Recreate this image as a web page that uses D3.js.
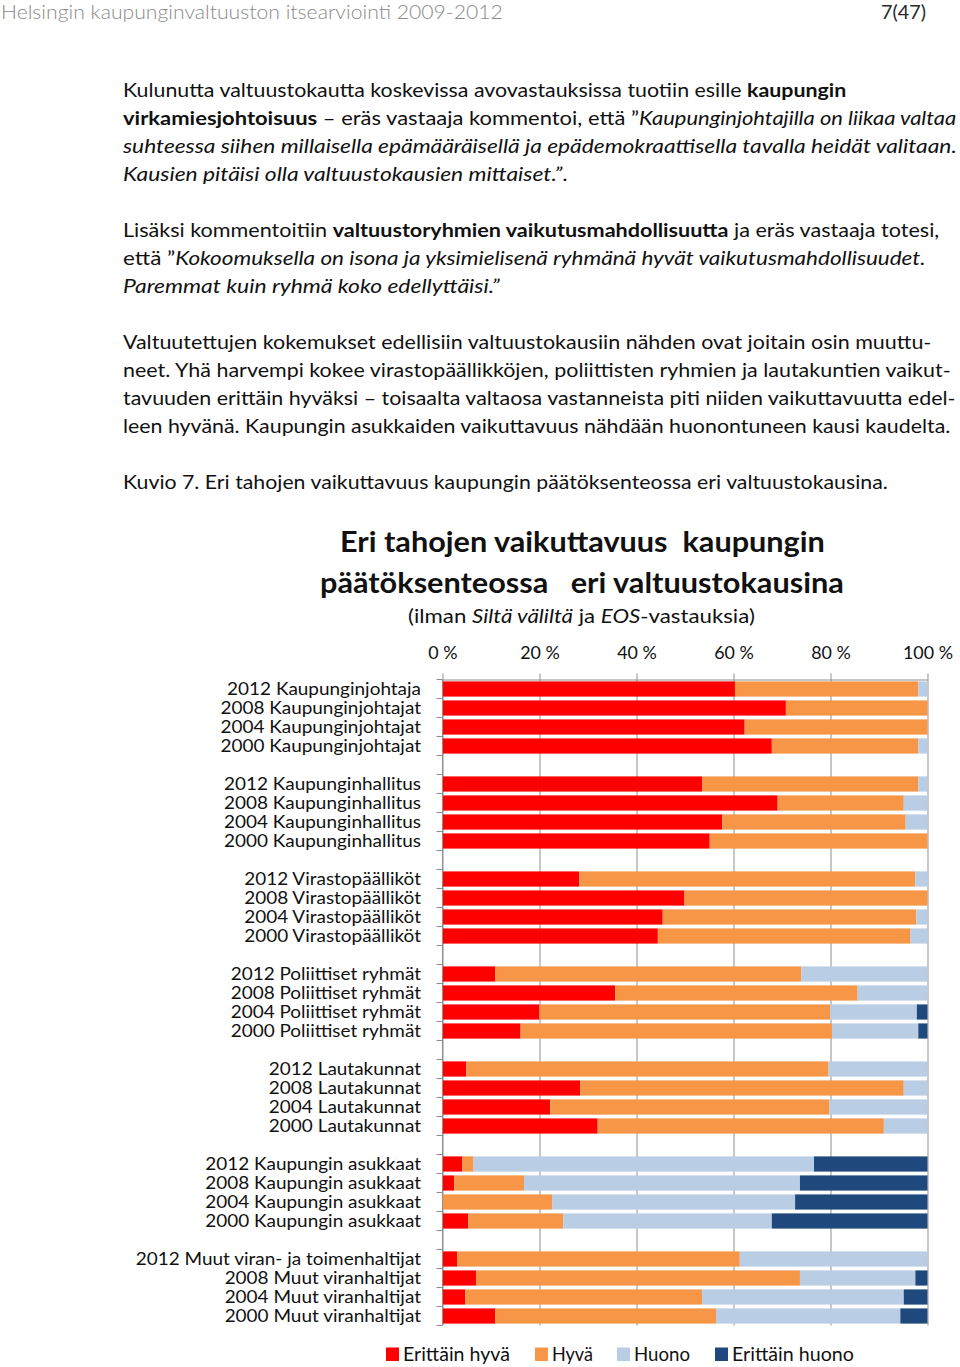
<!DOCTYPE html>
<html><head><meta charset="utf-8">
<script src="https://cdn.jsdelivr.net/npm/d3@7"></script>
<style>
html,body{margin:0;padding:0;background:#fff;}
svg{display:block;}
text{font-family:Lato,"Open Sans","DejaVu Sans",sans-serif;}
</style></head><body>
<svg id="c" width="960" height="1367"></svg>
<script>
// ---------- DATA ----------
const categories = [
  "2012 Kaupunginjohtaja","2008 Kaupunginjohtajat","2004 Kaupunginjohtajat","2000 Kaupunginjohtajat",
  "2012 Kaupunginhallitus","2008 Kaupunginhallitus","2004 Kaupunginhallitus","2000 Kaupunginhallitus",
  "2012 Virastopäälliköt","2008 Virastopäälliköt","2004 Virastopäälliköt","2000 Virastopäälliköt",
  "2012 Poliittiset ryhmät","2008 Poliittiset ryhmät","2004 Poliittiset ryhmät","2000 Poliittiset ryhmät",
  "2012 Lautakunnat","2008 Lautakunnat","2004 Lautakunnat","2000 Lautakunnat",
  "2012 Kaupungin asukkaat","2008 Kaupungin asukkaat","2004 Kaupungin asukkaat","2000 Kaupungin asukkaat",
  "2012 Muut viran- ja toimenhaltijat","2008 Muut viranhaltijat","2004 Muut viranhaltijat","2000 Muut viranhaltijat"
];
const seriesNames = ["Erittäin hyvä","Hyvä","Huono","Erittäin huono"];
const erittainHyva = [60.3,70.8,62.3,67.9, 53.6,69.1,57.7,55.1, 28.2,49.9,45.4,44.4, 10.9,35.6,20.0,16.1, 4.9,28.4,22.2,32.0, 4.1,2.4,0,5.3, 3.0,6.9,4.7,10.9];
const hyva         = [37.8,29.2,37.7,30.2, 44.5,26.0,37.8,44.9, 69.3,50.1,52.3,52.1, 63.1,50.0,59.9,64.2, 74.7,66.7,57.6,59.0, 2.3,14.4,22.6,19.6, 58.3,66.8,48.8,45.5];
const huono        = [1.9,0,0,1.9, 1.9,4.9,4.5,0, 2.5,0,2.3,3.5, 26.0,14.4,17.9,17.8, 20.4,4.9,20.2,9.0, 70.2,56.9,50.1,43.0, 38.7,23.8,41.6,38.0];
const erittainHuono= [0,0,0,0, 0,0,0,0, 0,0,0,0, 0,0,2.2,1.9, 0,0,0,0, 23.4,26.3,27.3,32.1, 0,2.5,4.9,5.6];
const tickValues = [0,20,40,60,80,100];
const tickLabels = ["0 %","20 %","40 %","60 %","80 %","100 %"];
const colors = ["#FF0000","#F79646","#B9CDE5","#1F497D"];

const headerText = "Helsingin kaupunginvaltuuston itsearviointi 2009-2012";
const pageText = "7(47)";
const chartTitle = ["Eri tahojen vaikuttavuus  kaupungin","päätöksenteossa   eri valtuustokausina"];
// body lines: segments [text, style]  (b = bold, i = italic)
const bodyLines = [
  [["Kulunutta valtuustokautta koskevissa avovastauksissa tuotiin esille ",""],["kaupungin","b"]],
  [["virkamiesjohtoisuus","b"],[" – eräs vastaaja kommentoi, että ”",""],["Kaupunginjohtajilla on liikaa valtaa","i"]],
  [["suhteessa siihen millaisella epämääräisellä ja epädemokraattisella tavalla heidät valitaan.","i"]],
  [["Kausien pitäisi olla valtuustokausien mittaiset.”","i"],[".",""]],
  [["Lisäksi kommentoitiin ",""],["valtuustoryhmien vaikutusmahdollisuutta","b"],[" ja eräs vastaaja totesi,",""]],
  [["että ”",""],["Kokoomuksella on isona ja yksimielisenä ryhmänä hyvät vaikutusmahdollisuudet.","i"]],
  [["Paremmat kuin ryhmä koko edellyttäisi.”","i"]],
  [["Valtuutettujen kokemukset edellisiin valtuustokausiin nähden ovat joitain osin muuttu-",""]],
  [["neet. Yhä harvempi kokee virastopäällikköjen, poliittisten ryhmien ja lautakuntien vaikut-",""]],
  [["tavuuden erittäin hyväksi – toisaalta valtaosa vastanneista piti niiden vaikuttavuutta edel-",""]],
  [["leen hyvänä. Kaupungin asukkaiden vaikuttavuus nähdään huonontuneen kausi kaudelta.",""]],
  [["Kuvio 7. Eri tahojen vaikuttavuus kaupungin päätöksenteossa eri valtuustokausina.",""]]
];

// ---------- DRAW ----------
const svg = d3.select("#c");

function makeText(g, segs, size, weight) {
  const t = g.append("text").attr("x",0).attr("y",0).attr("font-size",size)
    .style("white-space","pre");
  if (weight) t.attr("font-weight", weight);
  segs.forEach(s => {
    const ts = t.append("tspan").text(s[0]);
    if (s[1].includes("b")) ts.attr("font-weight",700);
    if (s[1].includes("i")) ts.attr("font-style","italic");
  });
  return t;
}
function fit(t, x, y, target) {
  const w = t.node().getComputedTextLength();
  t.attr("transform", `translate(${x},${y}) scale(${target / w},1)`);
  return target / w;
}

// header
const hdr = makeText(svg, [[headerText,""]], 19.5, 300).attr("fill","#8a8a8a");
fit(hdr, 1, 18.5, 502);
const pg = makeText(svg, [[pageText,""]], 19.5, 400).attr("fill","#2a2a2a");
fit(pg, 881, 18.5, 45);

// body
const bodyBase = [97,125,153,181, 237,265,293, 349,377,405,433, 489];
const bodyEnd  = [847,957,957,568, 940,926,500, 932,951,956,951, 888];
bodyLines.forEach((segs,i) => {
  const t = makeText(svg, segs, 19.5).attr("fill","#111");
  fit(t, 123, bodyBase[i], bodyEnd[i] - 123);
});

// chart title
const t1 = makeText(svg, [[chartTitle[0],""]], 28, 700).attr("fill","#111");
fit(t1, 340, 552, 485);
const t2 = makeText(svg, [[chartTitle[1],""]], 28, 700).attr("fill","#111");
fit(t2, 320, 593, 524);
const st = makeText(svg, [["(ilman ",""],["Siltä väliltä","i"],[" ja ",""],["EOS","i"],["-vastauksia)",""]], 20).attr("fill","#111");
fit(st, 408, 623, 347);

// scales
const x = d3.scaleLinear().domain([0,100]).range([442.5, 927.5]);
const domain = [];
categories.forEach((c,i) => { domain.push(c); if (i % 4 === 3 && i < categories.length - 1) domain.push("__gap" + i); });
const y = d3.scaleBand().domain(domain).range([679.5, 1325.5]).paddingInner(0.2).paddingOuter(0.1);
const step = y.step();

// gridlines
const gridColor = "#8f8f8f";
const grid = svg.append("g").attr("transform", `translate(0,679.5)`)
  .call(d3.axisTop(x).tickValues(tickValues).tickSize(-(1325.5-679.5)).tickFormat(""));
grid.select(".domain").remove();
grid.selectAll("line").attr("stroke", gridColor);

// bars
const table = categories.map((c,i) => ({cat:c, "Erittäin hyvä":erittainHyva[i], "Hyvä":hyva[i], "Huono":huono[i], "Erittäin huono":erittainHuono[i]}));
const stacked = d3.stack().keys(seriesNames)(table);
svg.append("g").selectAll("g").data(stacked).join("g")
  .attr("fill", (d,i) => colors[i])
  .selectAll("rect").data(d => d).join("rect")
  .attr("x", d => x(d[0]))
  .attr("width", d => Math.max(0, x(Math.min(100,d[1])) - x(d[0])))
  .attr("y", d => y(d.data.cat))
  .attr("height", y.bandwidth());

// top axis (ticks above + labels)
const topAx = svg.append("g").attr("transform", `translate(0,679.5)`)
  .call(d3.axisTop(x).tickValues(tickValues).tickSize(6).tickSizeOuter(0).tickPadding(15).tickFormat((d,i) => tickLabels[i]));
topAx.select(".domain").attr("stroke", gridColor);
topAx.selectAll("line").attr("stroke", gridColor);
topAx.selectAll("text").attr("font-size",17).attr("fill","#111").attr("font-family","Lato, sans-serif");
{
  const nodes = topAx.selectAll("text").nodes();
  const w = nodes[nodes.length-1].getComputedTextLength();
  const s = 50 / w;
  topAx.selectAll("text").attr("transform", `scale(${s},1)`);
}

// left axis line + boundary ticks
const left = svg.append("g");
left.append("line").attr("x1",442.5).attr("x2",442.5).attr("y1",679.5).attr("y2",1325.5).attr("stroke",gridColor);
const bounds = domain.map(k => y(k) - step * 0.1).concat([y(domain[domain.length-1]) - step*0.1 + step]);
left.selectAll("line.tk").data(bounds).join("line").attr("class","tk")
  .attr("x1",436.5).attr("x2",442.5).attr("y1",d => d).attr("y2",d => d).attr("stroke",gridColor);

// category labels
const labG = svg.append("g");
let labScale = null;
categories.forEach((c,i) => {
  const t = labG.append("text").attr("font-size",17.5).attr("text-anchor","end").attr("fill","#111").text(c);
  if (labScale === null) labScale = 194 / t.node().getComputedTextLength();
  t.attr("transform", `translate(421,${y(c) + y.bandwidth()/2 + 6}) scale(${labScale},1)`);
});

// legend
const lg = svg.append("g");
const legendItemX = [386, 535, 617, 715];
const legendTextW = [107, 41, 56, 122];
seriesNames.forEach((n,i) => {
  lg.append("rect").attr("x",legendItemX[i]).attr("y",1347.5).attr("width",13).attr("height",13.5).attr("fill",colors[i]);
  const t = lg.append("text").attr("font-size",18.5).attr("fill","#111").text(n);
  fit(t, legendItemX[i] + 17, 1361, legendTextW[i]);
});
</script>
</body></html>
